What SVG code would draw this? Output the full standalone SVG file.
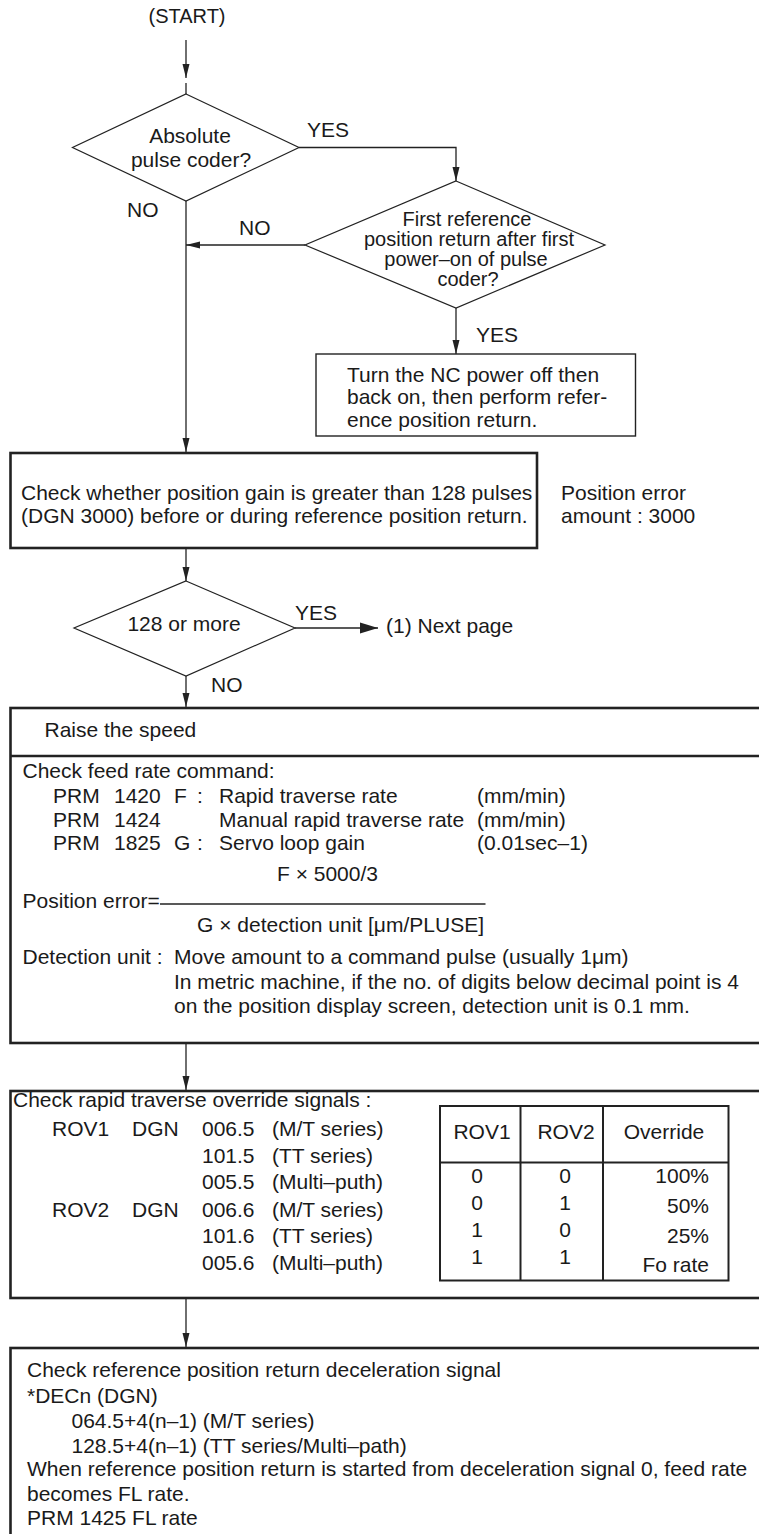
<svg xmlns="http://www.w3.org/2000/svg" width="759" height="1534" viewBox="0 0 759 1534">
<style>
text{font-family:"Liberation Sans",Arial,Helvetica,sans-serif;font-size:21px;fill:#1a1a1a}
.c{text-anchor:middle}
.r{text-anchor:end}
.s20{font-size:20px}
.dia{fill:#fff;stroke:#222;stroke-width:1.2}
.thin{fill:#fff;stroke:#222;stroke-width:1.4}
.thick{fill:#fff;stroke:#222;stroke-width:2.6}
.tbl{fill:none;stroke:#222;stroke-width:2}
.conn line,.conn polyline{stroke:#222;stroke-width:1.3;fill:none}
</style>
<defs>
<marker id="ah" markerUnits="userSpaceOnUse" markerWidth="14" markerHeight="8" refX="14" refY="4" orient="auto" viewBox="0 0 14 8"><path d="M0,0.5 L14,4 L0,7.5 z" fill="#222"/></marker>
<marker id="ahb" markerUnits="userSpaceOnUse" markerWidth="18" markerHeight="12" refX="18" refY="6" orient="auto" viewBox="0 0 18 12"><path d="M0,0.5 L18,6 L0,11.5 z" fill="#222"/></marker>
</defs>
<rect width="759" height="1534" fill="#fff"/>

<g id="connectors" class="conn">
<line x1="186" y1="40" x2="186" y2="78" marker-end="url(#ah)"/>
<line x1="186" y1="83" x2="186" y2="94"/>
<polyline points="299,147.5 456,147.5 456,181" marker-end="url(#ah)"/>
<line x1="305" y1="245" x2="186" y2="245" marker-end="url(#ah)"/>
<line x1="456" y1="308" x2="456" y2="354" marker-end="url(#ah)"/>
<line x1="186" y1="201" x2="186" y2="452" marker-end="url(#ah)"/>
<line x1="186" y1="549" x2="186" y2="581" marker-end="url(#ah)"/>
<line x1="295" y1="628" x2="378" y2="628" marker-end="url(#ahb)"/>
<line x1="186" y1="676" x2="186" y2="707" marker-end="url(#ah)"/>
<line x1="186" y1="1044" x2="186" y2="1090" marker-end="url(#ah)"/>
<line x1="186" y1="1299" x2="186" y2="1347" marker-end="url(#ah)"/>
</g>

<g id="labels">
<text x="307" y="137">YES</text>
<text x="127" y="217">NO</text>
<text x="239" y="235">NO</text>
<text x="476" y="342">YES</text>
<text x="295" y="620">YES</text>
<text x="211" y="692">NO</text>
</g>

<g id="start">
<text class="c s20" x="187" y="23">(START)</text>
</g>

<g id="d1">
<polygon class="dia" points="186,94 299,147.5 186,201 72.5,147.5"/>
<text class="c" x="190" y="143">Absolute</text>
<text class="c" x="191" y="167">pulse coder?</text>
</g>

<g id="d2">
<polygon class="dia" points="456,181 605,245 456,308 305,245"/>
<text class="c s20" x="467" y="226">First reference</text>
<text class="c s20" x="469" y="246">position return after first</text>
<text class="c s20" x="466" y="266">power–on of pulse</text>
<text class="c s20" x="468" y="286">coder?</text>
</g>

<g id="turn">
<rect class="thin" x="316" y="354" width="319.5" height="82"/>
<text x="347" y="382">Turn the NC power off then</text>
<text x="347" y="404">back on, then perform refer-</text>
<text x="347" y="427">ence position return.</text>
</g>

<g id="check-gain">
<rect class="thick" x="10.5" y="453" width="526.5" height="95"/>
<text x="21" y="500">Check whether position gain is greater than 128 pulses</text>
<text x="21" y="523">(DGN 3000) before or during reference position return.</text>
</g>

<g id="note">
<text x="561" y="500">Position error</text>
<text x="561" y="523">amount : 3000</text>
</g>

<g id="d3">
<polygon class="dia" points="186,581 295,628 186,676 74,628"/>
<text class="c" x="184" y="631">128 or more</text>
</g>

<g id="next">
<text x="386" y="633">(1) Next page</text>
</g>

<g id="raise">
<rect class="thick" x="10.5" y="708" width="760" height="335"/>
<line x1="10.5" y1="756" x2="770" y2="756" stroke="#222" stroke-width="2.6"/>
<text x="44.5" y="737">Raise the speed</text>
<text x="22.5" y="778">Check feed rate command:</text>
<text y="803"><tspan x="53">PRM</tspan><tspan x="114">1420</tspan><tspan x="174">F</tspan><tspan x="197">:</tspan><tspan x="219">Rapid traverse rate</tspan><tspan x="477">(mm/min)</tspan></text>
<text y="827"><tspan x="53">PRM</tspan><tspan x="114">1424</tspan><tspan x="219">Manual rapid traverse rate</tspan><tspan x="477">(mm/min)</tspan></text>
<text y="850"><tspan x="53">PRM</tspan><tspan x="114">1825</tspan><tspan x="174">G</tspan><tspan x="197">:</tspan><tspan x="219">Servo loop gain</tspan><tspan x="477">(0.01sec–1)</tspan></text>
<text x="277" y="881">F × 5000/3</text>
<text x="22.5" y="908">Position error=</text>
<line x1="160" y1="904" x2="485.5" y2="904" stroke="#222" stroke-width="1.3"/>
<text x="197" y="932">G × detection unit [μm/PLUSE]</text>
<text y="964"><tspan x="22.5">Detection unit :</tspan><tspan x="174">Move amount to a command pulse (usually 1μm)</tspan></text>
<text x="174" y="989">In metric machine, if the no. of digits below decimal point is 4</text>
<text x="174" y="1013">on the position display screen, detection unit is 0.1 mm.</text>
</g>

<g id="override">
<rect class="thick" x="10.5" y="1091" width="760" height="207"/>
<text x="13" y="1107">Check rapid traverse override signals :</text>
<text y="1136"><tspan x="52">ROV1</tspan><tspan x="132">DGN</tspan><tspan x="202">006.5</tspan><tspan x="272">(M/T series)</tspan></text>
<text y="1163"><tspan x="202">101.5</tspan><tspan x="272">(TT series)</tspan></text>
<text y="1189"><tspan x="202">005.5</tspan><tspan x="272">(Multi–puth)</tspan></text>
<text y="1217"><tspan x="52">ROV2</tspan><tspan x="132">DGN</tspan><tspan x="202">006.6</tspan><tspan x="272">(M/T series)</tspan></text>
<text y="1243"><tspan x="202">101.6</tspan><tspan x="272">(TT series)</tspan></text>
<text y="1270"><tspan x="202">005.6</tspan><tspan x="272">(Multi–puth)</tspan></text>
</g>

<g id="override-table">
<rect class="tbl" x="440" y="1106" width="288.5" height="174.5"/>
<line class="tbl" x1="440" y1="1162.5" x2="728.5" y2="1162.5"/>
<line class="tbl" x1="520.5" y1="1106" x2="520.5" y2="1280.5"/>
<line class="tbl" x1="603" y1="1106" x2="603" y2="1280.5"/>
<text class="c" x="482" y="1139">ROV1</text>
<text class="c" x="566" y="1139">ROV2</text>
<text class="c" x="664" y="1139">Override</text>
<text class="c" x="477" y="1183">0</text>
<text class="c" x="477" y="1210">0</text>
<text class="c" x="477" y="1237">1</text>
<text class="c" x="477" y="1264">1</text>
<text class="c" x="565" y="1183">0</text>
<text class="c" x="565" y="1210">1</text>
<text class="c" x="565" y="1237">0</text>
<text class="c" x="565" y="1264">1</text>
<text class="r" x="709" y="1183">100%</text>
<text class="r" x="709" y="1213">50%</text>
<text class="r" x="709" y="1243">25%</text>
<text class="r" x="709" y="1272">Fo rate</text>
</g>

<g id="decel">
<rect class="thick" x="10.5" y="1348" width="760" height="200"/>
<text x="27" y="1377">Check reference position return deceleration signal</text>
<text x="27" y="1403">*DECn (DGN)</text>
<text x="71.5" y="1428">064.5+4(n–1) (M/T series)</text>
<text x="71.5" y="1453">128.5+4(n–1) (TT series/Multi–path)</text>
<text x="27" y="1476">When reference position return is started from deceleration signal 0, feed rate</text>
<text x="27" y="1501">becomes FL rate.</text>
<text x="27" y="1525">PRM 1425 FL rate</text>
</g>
</svg>
